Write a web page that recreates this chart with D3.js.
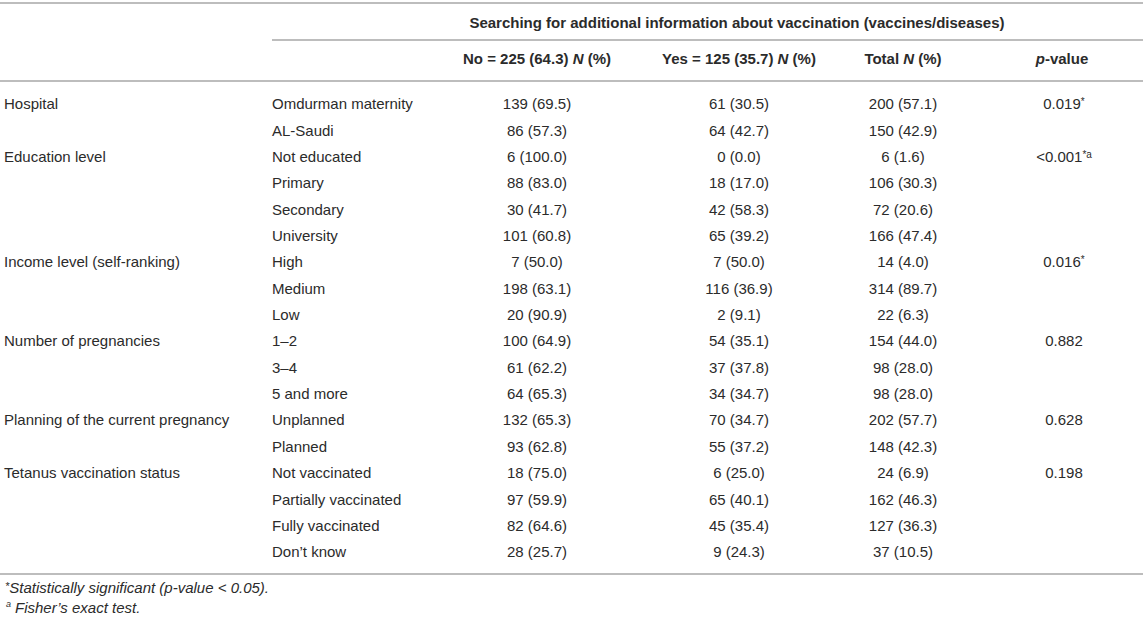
<!DOCTYPE html>
<html>
<head>
<meta charset="utf-8">
<style>
  body { margin: 0; background: #fff; }
  svg text { font-family: "Liberation Sans", Arial, sans-serif; font-size: 15px; fill: #2b2b2b; }
</style>
</head>
<body>
<svg width="1143" height="618"></svg>
<script src="https://d3js.org/d3.v7.min.js"></script>
<script>

// Table data
var variables = ["Hospital", "", "Education level", "", "", "", "Income level (self-ranking)", "", "",
  "Number of pregnancies", "", "", "Planning of the current pregnancy", "",
  "Tetanus vaccination status", "", "", ""];
var categories = ["Omdurman maternity", "AL-Saudi", "Not educated", "Primary", "Secondary", "University",
  "High", "Medium", "Low", "1\u20132", "3\u20134", "5 and more", "Unplanned", "Planned",
  "Not vaccinated", "Partially vaccinated", "Fully vaccinated", "Don\u2019t know"];
var noN   = [139, 86, 6, 88, 30, 101, 7, 198, 20, 100, 61, 64, 132, 93, 18, 97, 82, 28];
var noPct = ["69.5", "57.3", "100.0", "83.0", "41.7", "60.8", "50.0", "63.1", "90.9", "64.9", "62.2", "65.3", "65.3", "62.8", "75.0", "59.9", "64.6", "25.7"];
var yesN   = [61, 64, 0, 18, 42, 65, 7, 116, 2, 54, 37, 34, 70, 55, 6, 65, 45, 9];
var yesPct = ["30.5", "42.7", "0.0", "17.0", "58.3", "39.2", "50.0", "36.9", "9.1", "35.1", "37.8", "34.7", "34.7", "37.2", "25.0", "40.1", "35.4", "24.3"];
var totN   = [200, 150, 6, 106, 72, 166, 14, 314, 22, 154, 98, 98, 202, 148, 24, 162, 127, 37];
var totPct = ["57.1", "42.9", "1.6", "30.3", "20.6", "47.4", "4.0", "89.7", "6.3", "44.0", "28.0", "28.0", "57.7", "42.3", "6.9", "46.3", "36.3", "10.5"];
var pValues = ["0.019", "", "<0.001", "", "", "", "0.016", "", "", "0.882", "", "", "0.628", "", "0.198", "", "", ""];
var pMarks  = ["*", "", "*a", "", "", "", "*", "", "", "", "", "", "", "", "", "", "", ""];

var svg = d3.select("svg");
var lineColor = "#bdbdbd";

// column positions
var columns = ["var", "cat", "no", "yes", "total", "p"];
var x = d3.scaleOrdinal().domain(columns).range([4, 272, 537, 739, 903, 1064]);
var anchor = d3.scaleOrdinal().domain(columns).range(["start", "start", "middle", "middle", "middle", "middle"]);

// row positions
var y = d3.scalePoint().domain(d3.range(categories.length)).range([104, 552]);

// rules
var rules = [
  {x1: 0, x2: 1143, y: 3},
  {x1: 272, x2: 1143, y: 40},
  {x1: 0, x2: 1143, y: 81},
  {x1: 0, x2: 1143, y: 574}
];
svg.selectAll("line.rule").data(rules).join("line")
    .attr("class", "rule")
    .attr("x1", function(d) { return d.x1; })
    .attr("x2", function(d) { return d.x2; })
    .attr("y1", function(d) { return d.y; })
    .attr("y2", function(d) { return d.y; })
    .attr("stroke", lineColor)
    .attr("stroke-width", 2);

// spanning header
svg.append("text")
    .attr("x", 737).attr("y", 23).attr("dy", "0.35em")
    .attr("text-anchor", "middle")
    .attr("font-weight", "bold")
    .attr("font-size", "15.6px")
    .text("Searching for additional information about vaccination (vaccines/diseases)");

// column headers (parts: [text, italic])
var headers = [
  {col: "no", parts: [["No = 225 (64.3) ", false], ["N", true], [" (%)", false]]},
  {col: "yes", parts: [["Yes = 125 (35.7) ", false], ["N", true], [" (%)", false]]},
  {col: "total", parts: [["Total ", false], ["N", true], [" (%)", false]]},
  {col: "p", parts: [["p", true], ["-value", false]]}
];
var ht = svg.selectAll("text.head").data(headers).join("text")
    .attr("class", "head")
    .attr("x", function(d) { return d.col === "p" ? 1062 : x(d.col); })
    .attr("y", 59).attr("dy", "0.35em")
    .attr("text-anchor", "middle")
    .attr("font-weight", "bold")
    .attr("font-size", "15.8px");
ht.selectAll("tspan").data(function(d) { return d.parts; }).join("tspan")
    .attr("font-style", function(d) { return d[1] ? "italic" : "normal"; })
    .text(function(d) { return d[0]; });

// body rows
var rows = svg.selectAll("g.row").data(categories).join("g")
    .attr("class", "row")
    .attr("transform", function(d, i) { return "translate(0," + y(i) + ")"; });

function cell(col, fn) {
  rows.append("text")
      .attr("x", x(col))
      .attr("dy", "0.35em")
      .attr("text-anchor", anchor(col))
      .text(fn);
}
cell("var", function(d, i) { return variables[i]; });
cell("cat", function(d) { return d; });
cell("no", function(d, i) { return noN[i] + " (" + noPct[i] + ")"; });
cell("yes", function(d, i) { return yesN[i] + " (" + yesPct[i] + ")"; });
cell("total", function(d, i) { return totN[i] + " (" + totPct[i] + ")"; });

var pt = rows.append("text")
    .attr("x", x("p"))
    .attr("dy", "0.35em")
    .attr("text-anchor", "middle");
pt.append("tspan").text(function(d, i) { return pValues[i]; });
pt.append("tspan")
    .attr("dy", "-0.4em")
    .attr("font-size", "10px")
    .text(function(d, i) { return pMarks[i]; });

// footnotes
var foot = svg.append("g").attr("font-style", "italic");
var f1 = foot.append("text").attr("x", 5).attr("y", 592).attr("dy", "0.35em").attr("font-size", "12px");
f1.append("tspan").attr("font-size", "11px").attr("dy", "-0.15em").text("*");
f1.append("tspan").attr("dy", "0.15em").text("Statistically significant (p-value < 0.05).");
var f2 = foot.append("text").attr("x", 6).attr("y", 611).attr("dy", "0.35em").attr("font-size", "12px");
f2.append("tspan").attr("font-size", "9px").attr("dy", "-0.4em").text("a");
f2.append("tspan").attr("x", 15).attr("dy", "0.4em").text("Fisher\u2019s exact test.");

</script>
</body>
</html>
